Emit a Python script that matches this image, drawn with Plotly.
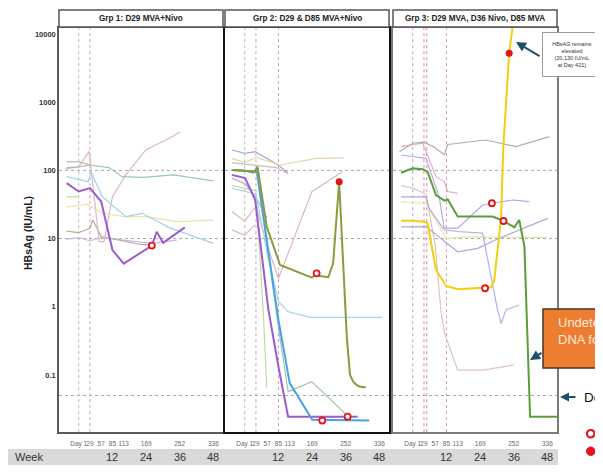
import plotly.graph_objects as go

# The page body has an 8px margin, so the figure is drawn at (8, 8); coordinates below
# are given in the reference picture's pixel space and shifted accordingly.
OX, OY = 8, 8
FW, FH = 595, 465
def px(x): return (x - OX) / FW
def py(y): return 1 - (y - OY) / FH

FONT = "Liberation Sans, Arial, sans-serif"

# ---------------- data ----------------
tick_days = [1, 29, 57, 85, 113, 169, 252, 336]
tick_text = ["Day 1", "29", "57", "85", "113", "169", "252", "336"]
week_days = [84, 168, 252, 336]
week_text = ["12", "24", "36", "48"]
y_tick_vals = [0.1, 1, 10, 100, 1000, 10000]
y_tick_text = ["0.1", "1", "10", "100", "1000", "10000"]
ref_levels = [100, 10, 0.05]
panel_titles = ["Grp 1: D29 MVA+Nivo", "Grp 2: D29 & D85 MVA+Nivo", "Grp 3: D29 MVA, D36 Nivo, D85 MVA"]

# Group 1
g1_purple_days = [-29, 1, 29, 57, 85, 113, 183, 195, 211, 265]
g1_purple_vals = [65, 49, 55, 35, 6.8, 4.3, 7.9, 12.6, 8.7, 14.6]
g1_sage_days = [-29, 1, 29, 76, 109, 162, 236, 336]
g1_sage_vals = [110, 113, 120, 110, 81, 79, 86, 70]
g1_ltblue_days = [-29, 25, 31, 60, 118, 159, 226, 336]
g1_ltblue_vals = [81, 68, 96, 41, 21, 23.5, 14.5, 8.5]
g1_yellow_days = [-29, 21, 57, 113, 169, 245, 336]
g1_yellow_vals = [29, 32, 24, 21, 21, 17.7, 18.7]
g1_mauve_days = [-31, 1, 27, 52, 64, 85, 118, 168, 226, 253]
g1_mauve_vals = [105, 113, 190, 9.0, 9.0, 41, 86, 200, 296, 366]
g1_greybrown_days = [-29, 1, 29]
g1_greybrown_vals = [134, 134, 120]
g1_brownish_days = [-29, 1, 29, 36, 57, 155, 183]
g1_brownish_vals = [12.9, 12.2, 14.2, 18.7, 10.7, 8.2, 8.0]
g1_lavender_days = [-29, 1, 29, 57, 183, 245]
g1_lavender_vals = [9.8, 10.3, 9.3, 10.3, 8.5, 9.5]
g1_ltgreen_days = [-29, 1]
g1_ltgreen_vals = [41, 41]
g1_open_days = [183]
g1_open_vals = [7.9]
g1_vline_days = [1, 29]

# Group 2
g2_olive_days = [-31, 1, 27, 33, 56, 89, 168, 180, 188, 209, 221, 236, 255, 263, 271, 280, 288, 302]
g2_olive_vals = [101, 98, 96, 113, 14.9, 4.1, 2.67, 3.1, 2.83, 2.71, 4.35, 68, 0.365, 0.1, 0.08, 0.071, 0.067, 0.066]
g2_blue_days = [-31, 1, 22, 31, 57, 85, 113, 169, 311]
g2_blue_vals = [101, 100, 92.5, 107, 8.4, 0.64, 0.076, 0.022, 0.0215]
g2_purple_days = [-31, 2, 27, 60, 85, 109, 282]
g2_purple_vals = [86, 77, 37, 0.9, 0.132, 0.0245, 0.0245]
g2_greygreen_days = [-31, 1, 29, 57, 85, 109, 168, 259]
g2_greygreen_vals = [100, 98, 100, 8, 0.5, 0.057, 0.08, 0.0245]
g2_ltblue_days = [-31, 1, 29, 57, 85, 109, 163, 343]
g2_ltblue_vals = [55, 50, 45, 6, 1.2, 0.85, 0.70, 0.70]
g2_ltgreen_days = [-31, 1, 29, 47, 56]
g2_ltgreen_vals = [60, 55, 50, 0.9, 0.065]
g2_mauve_days = [-31, 1, 29, 57, 85, 168, 245]
g2_mauve_vals = [25, 18, 30, 8, 2.6, 48.7, 96]
g2_beige_days = [-31, 1, 29, 79, 89, 179, 248]
g2_beige_vals = [150, 130, 155, 125, 120, 150, 153]
g2_greypurple_days = [-31, 1, 27, 85, 109]
g2_greypurple_vals = [199, 178, 188, 120, 91]
g2_grey_days = [-31, 27, 79, 107]
g2_grey_vals = [130, 120, 110, 91]
g2_ltpurple_days = [-31, 1, 27, 57]
g2_ltpurple_vals = [77, 64, 42, 20]
g2_pinkgrey_days = [-31, 1, 27]
g2_pinkgrey_vals = [13.4, 11.2, 16]
g2_open_days = [180, 194, 257]
g2_open_vals = [3.1, 0.0215, 0.0245]
g2_filled_days = [236]
g2_filled_vals = [68]
g2_vline_days = [1, 29, 85]

# Group 3
g3_yellow_days = [-28, 1, 30, 38, 59, 84, 113, 181, 196, 204, 221, 226, 241, 254]
g3_yellow_vals = [18.3, 18.3, 17.7, 16.8, 3.47, 2.02, 1.81, 1.87, 1.93, 2.47, 20.9, 199, 5210, 20130]
g3_green_days = [-28, 1, 26, 38, 59, 80, 88, 113, 200, 227, 254, 266, 279, 293, 362]
g3_green_vals = [92.5, 107, 104, 96, 43.6, 36, 37.7, 21, 21, 18.1, 14.6, 18.7, 7.6, 0.0245, 0.0245]
g3_lav1_days = [-28, 34, 42, 76, 113, 175, 198, 250, 291]
g3_lav1_vals = [41, 41, 27.8, 14.2, 14.2, 31.1, 33, 36.8, 34.8]
g3_lav2_days = [-28, 34, 113, 163, 216, 337]
g3_lav2_vals = [14.9, 15, 6.4, 7.2, 10.1, 19.8]
g3_lav3_days = [-28, 34, 67, 80, 113, 175, 212, 221, 233, 266]
g3_lav3_vals = [168, 150, 41, 13.4, 12.7, 12, 0.9, 0.57, 0.9, 1.06]
g3_ltyellow_days = [-28, 34, 84, 138, 337]
g3_ltyellow_vals = [34.8, 33, 10.1, 10.6, 10.4]
g3_greytop_days = [-32, 1, 29, 54, 80, 88, 183, 258, 341]
g3_greytop_vals = [188, 250, 260, 220, 170, 240, 279, 223, 312]
g3_palepink_days = [-28, 1, 34, 57, 71, 80, 113, 175, 254]
g3_palepink_vals = [60, 55, 45, 8, 0.9, 0.41, 0.118, 0.118, 0.14]
g3_pink_days = [-28, 26, 59, 80, 88, 113]
g3_pink_vals = [223, 250, 81, 68, 49, 46]
g3_open_days = [181, 198, 227]
g3_open_vals = [1.87, 33, 18.1]
g3_filled_days = [241]
g3_filled_vals = [5210]
g3_vline_days = [1, 29, 36, 85]

# ---------------- styles ----------------
THIN = 1.2
THICK = 2.0
groups = [
    dict(ax=("x", "y"), series=[
        (g1_greybrown_days, g1_greybrown_vals, "#b3a7a3", THIN),
        (g1_ltgreen_days, g1_ltgreen_vals, "#b9dca4", THIN),
        (g1_lavender_days, g1_lavender_vals, "#cbb8e8", THIN),
        (g1_brownish_days, g1_brownish_vals, "#b5aaa6", THIN),
        (g1_mauve_days, g1_mauve_vals, "#d9b7c8", THIN),
        (g1_yellow_days, g1_yellow_vals, "#efe39e", THIN),
        (g1_ltblue_days, g1_ltblue_vals, "#9fd3ea", THIN),
        (g1_sage_days, g1_sage_vals, "#9cc8ae", THIN),
        (g1_purple_days, g1_purple_vals, "#9a5ccf", THICK),
    ], open=(g1_open_days, g1_open_vals), filled=None, vlines=g1_vline_days,
        vcolors=["#a9c4a9", "#d79ab8"], border=("#5a5a5a", 1.5)),
    dict(ax=("x2", "y2"), series=[
        (g2_pinkgrey_days, g2_pinkgrey_vals, "#d9bcc4", THIN),
        (g2_ltpurple_days, g2_ltpurple_vals, "#bcace4", THIN),
        (g2_grey_days, g2_grey_vals, "#c0c0c0", THIN),
        (g2_greypurple_days, g2_greypurple_vals, "#a8a8cc", THIN),
        (g2_beige_days, g2_beige_vals, "#e4d4b0", THIN),
        (g2_mauve_days, g2_mauve_vals, "#d9b7c8", THIN),
        (g2_ltgreen_days, g2_ltgreen_vals, "#b9dca4", THIN),
        (g2_ltblue_days, g2_ltblue_vals, "#a6d8ec", THIN),
        (g2_greygreen_days, g2_greygreen_vals, "#9cc4b0", THIN),
        (g2_purple_days, g2_purple_vals, "#9a5ccf", THICK),
        (g2_blue_days, g2_blue_vals, "#4aa3df", THICK),
        (g2_olive_days, g2_olive_vals, "#8c9b3e", THICK),
    ], open=(g2_open_days, g2_open_vals), filled=(g2_filled_days, g2_filled_vals),
        vlines=g2_vline_days, vcolors=["#a9c4a9", "#d79ab8", "#c99ac8"], border=("#111111", 2)),
    dict(ax=("x3", "y3"), series=[
        (g3_pink_days, g3_pink_vals, "#e2abc4", THIN),
        (g3_palepink_days, g3_palepink_vals, "#dcc4bc", THIN),
        (g3_greytop_days, g3_greytop_vals, "#b8aca8", THIN),
        (g3_ltyellow_days, g3_ltyellow_vals, "#f0e6a8", THIN),
        (g3_lav3_days, g3_lav3_vals, "#b4b0e6", THIN),
        (g3_lav2_days, g3_lav2_vals, "#aaaadc", THIN),
        (g3_lav1_days, g3_lav1_vals, "#b0a8e2", THIN),
        (g3_green_days, g3_green_vals, "#5b9e3a", THICK),
        (g3_yellow_days, g3_yellow_vals, "#f3cf10", THICK),
    ], open=(g3_open_days, g3_open_vals), filled=(g3_filled_days, g3_filled_vals),
        vlines=g3_vline_days, vcolors=["#b8a8d8", "#d88aaa", "#d88aaa", "#d79ab8"], border=("#7a7a7a", 1.5)),
]

X_RANGE = [-48, 360]
Y_LOW, Y_HIGH = 0.0145, 12200
domains = [(59, 223), (225, 389), (393, 557)]
Y_DOM = [py(432), py(28)]

fig = go.Figure()

for g in groups:
    xa, ya = g["ax"]
    for lv in ref_levels:
        fig.add_trace(go.Scatter(x=X_RANGE, y=[lv, lv], mode="lines", xaxis=xa, yaxis=ya,
                                 line=dict(color="#a8a8a8", width=1, dash="dot"), showlegend=False, hoverinfo="skip"))
    for d, c in zip(g["vlines"], g["vcolors"]):
        fig.add_trace(go.Scatter(x=[d, d], y=[Y_LOW, Y_HIGH], mode="lines", xaxis=xa, yaxis=ya,
                                 line=dict(color=c, width=1, dash="dot"), showlegend=False, hoverinfo="skip"))
    for days, vals, col, wd in g["series"]:
        fig.add_trace(go.Scatter(x=days, y=vals, mode="lines", xaxis=xa, yaxis=ya,
                                 line=dict(color=col, width=wd), showlegend=False))
    if g["open"]:
        fig.add_trace(go.Scatter(x=g["open"][0], y=g["open"][1], mode="markers", xaxis=xa, yaxis=ya,
                                 marker=dict(size=6, color="white", line=dict(color="#e3141b", width=1.8)),
                                 showlegend=False))
    if g["filled"]:
        fig.add_trace(go.Scatter(x=g["filled"][0], y=g["filled"][1], mode="markers", xaxis=xa, yaxis=ya,
                                 marker=dict(size=7, color="#e3141b"), showlegend=False))

layout = dict(width=FW, height=FH, margin=dict(l=0, r=0, t=0, b=0),
              paper_bgcolor="white", plot_bgcolor="white", font=dict(family=FONT),
              showlegend=False)
for i, (g, (l, r)) in enumerate(zip(groups, domains)):
    sfx = "" if i == 0 else str(i + 1)
    lc, lw = g["border"]
    layout["xaxis" + sfx] = dict(domain=[px(l), px(r)], range=X_RANGE, showgrid=False, zeroline=False,
                                 tickmode="array", tickvals=tick_days, ticktext=tick_text, tickangle=0,
                                 tickfont=dict(size=6.5, color="#6b6b6b"), ticks="outside", ticklen=4,
                                 tickcolor="rgba(0,0,0,0)", showline=True, mirror=True,
                                 linecolor=lc, linewidth=lw, anchor="y" + sfx, fixedrange=True)
    layout["yaxis" + sfx] = dict(domain=Y_DOM, type="log", range=[-1.836, 4.088], showgrid=False,
                                 zeroline=False, tickmode="array", tickvals=y_tick_vals,
                                 ticktext=["<b>%s</b>" % t for t in y_tick_text],
                                 tickfont=dict(size=7.5, color="#333333"), showticklabels=(i == 0),
                                 ticks="", showline=True, mirror=True, linecolor=lc, linewidth=lw,
                                 anchor="x" + sfx, fixedrange=True)

shapes = []
annotations = []
for (l, r), t in zip(domains, panel_titles):
    shapes.append(dict(type="rect", xref="paper", yref="paper", x0=px(l), x1=px(r), y0=py(27), y1=py(10),
                       line=dict(color="#555555", width=1.5), fillcolor="white"))
    annotations.append(dict(xref="paper", yref="paper", x=px((l + r) / 2), y=py(18.5), text="<b>%s</b>" % t,
                            showarrow=False, font=dict(size=8.2, color="#222222"), xanchor="center", yanchor="middle"))

shapes.append(dict(type="rect", xref="paper", yref="paper", x0=px(5), x1=px(558), y0=py(465), y1=py(449),
                   line=dict(width=0), fillcolor="#d9d9d9", layer="below"))
annotations.append(dict(xref="paper", yref="paper", x=px(29), y=py(457), text="Week", showarrow=False,
                        font=dict(size=11, color="#333333"), xanchor="center", yanchor="middle"))
for i in range(3):
    xr = "x" if i == 0 else "x%d" % (i + 1)
    for d, t in zip(week_days, week_text):
        annotations.append(dict(xref=xr, yref="paper", x=d, y=py(457), text=t, showarrow=False,
                                font=dict(size=11, color="#333333"), xanchor="center", yanchor="middle"))

annotations.append(dict(xref="paper", yref="paper", x=px(28), y=py(233), text="<b>HBsAg (IU/mL)</b>",
                        textangle=-90, showarrow=False, font=dict(size=10.5, color="#222222"),
                        xanchor="center", yanchor="middle"))

# callout box for elevated HBsAg
annotations.append(dict(xref="paper", yref="paper", x=px(571.5), y=py(54.5),
                        text="HBsAG remains<br>elevated<br>(20,130 IU/mL<br>at Day 421)",
                        showarrow=False, font=dict(size=5.5, color="#333333"), bgcolor="white",
                        bordercolor="#9a9a9a", borderwidth=1, width=56, height=41, align="center",
                        xanchor="center", yanchor="middle"))
annotations.append(dict(xref="paper", yref="paper", x=px(516), y=py(42), ax=25, ay=15,
                        axref="pixel", ayref="pixel", text="", showarrow=True, arrowhead=2, arrowsize=1,
                        arrowwidth=2, arrowcolor="#1f4e6b"))

# orange box (cut by the picture edge, as in the reference)
shapes.append(dict(type="rect", xref="paper", yref="paper", x0=px(543), x1=px(640), y0=py(368), y1=py(309),
                   line=dict(color="#4a3520", width=1.5), fillcolor="#ed7d31"))
annotations.append(dict(xref="paper", yref="paper", x=px(556), y=py(331), text="Undete<br>DNA fo",
                        showarrow=False, font=dict(size=13, color="#fde9d9"), align="left",
                        xanchor="left", yanchor="middle"))
annotations.append(dict(xref="paper", yref="paper", x=px(530), y=py(360), ax=13, ay=-8,
                        axref="pixel", ayref="pixel", text="", showarrow=True, arrowhead=2, arrowsize=1,
                        arrowwidth=2, arrowcolor="#1f4e6b"))

# detection limit label
annotations.append(dict(xref="paper", yref="paper", x=px(560), y=py(397), ax=17, ay=0,
                        axref="pixel", ayref="pixel", text="", showarrow=True, arrowhead=2, arrowsize=1,
                        arrowwidth=1.8, arrowcolor="#1f4e6b"))
annotations.append(dict(xref="paper", yref="paper", x=px(582), y=py(397), text="De",
                        showarrow=False, font=dict(size=13.5, color="#111111"), xanchor="left", yanchor="middle"))

# legend markers
shapes.append(dict(type="circle", xref="paper", yref="paper", x0=px(587), x1=px(594.5), y0=py(437.5), y1=py(430),
                   line=dict(color="#e3141b", width=2.2), fillcolor="white"))
shapes.append(dict(type="circle", xref="paper", yref="paper", x0=px(586.5), x1=px(595), y0=py(455.5), y1=py(447),
                   line=dict(color="#e3141b", width=1), fillcolor="#e3141b"))

layout["shapes"] = shapes
layout["annotations"] = annotations
fig.update_layout(**layout)
fig.write_html("out.html")
